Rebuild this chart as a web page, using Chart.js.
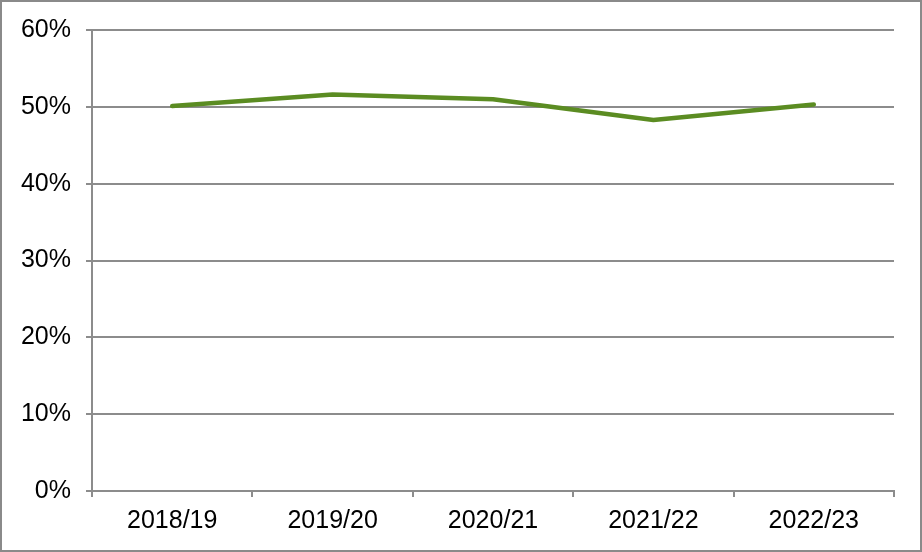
<!DOCTYPE html>
<html>
<head>
<meta charset="utf-8">
<script src="https://cdn.jsdelivr.net/npm/chart.js@4/dist/chart.umd.min.js"></script>
<style>
html,body{margin:0;padding:0;background:#fff;}
#wrap{width:922px;height:552px;position:relative;}
</style>
</head>
<body>
<div id="wrap"><canvas id="c" width="922" height="552"></canvas></div>
<script>
const categories = ['2018/19','2019/20','2020/21','2021/22','2022/23'];
const shareValues = [50.1, 51.6, 51.0, 48.3, 50.3];
const yTicks = [0,10,20,30,40,50,60];

const frame = {
  id:'frame',
  afterDraw(chart){
    const ctx = chart.ctx;
    ctx.save();
    ctx.strokeStyle = '#8a8a8a';
    ctx.lineWidth = 2;
    ctx.strokeRect(1,1,chart.width-2,chart.height-2);
    ctx.restore();
  }
};

new Chart(document.getElementById('c'), {
  type:'line',
  data:{
    labels: categories,
    datasets:[{
      data: shareValues,
      borderColor:'#5b8c22',
      borderWidth:4.5,
      borderCapStyle:'round',
      borderJoinStyle:'round',
      pointRadius:0,
      tension:0,
      fill:false
    }]
  },
  options:{
    responsive:false,
    animation:false,
    devicePixelRatio:1,
    layout:{padding:{left:0,right:28,top:29,bottom:0}},
    plugins:{legend:{display:false},tooltip:{enabled:false}},
    scales:{
      x:{
        offset:true,
        grid:{offset:true,drawOnChartArea:false,drawTicks:true,tickLength:6,color:'#8c8c8c',lineWidth:2},
        border:{display:true,color:'#8c8c8c',width:2},
        ticks:{color:'#000',font:{family:'"Liberation Sans", Arial, sans-serif',size:25},padding:9,maxRotation:0,autoSkip:false},
        afterFit(s){ s.height = 61; }
      },
      y:{
        min:0,max:60,
        afterBuildTicks(s){ s.ticks = yTicks.map(v=>({value:v})); },
        grid:{color:'#8c8c8c',lineWidth:2,tickLength:6,drawTicks:true},
        border:{display:true,color:'#8c8c8c',width:2},
        ticks:{color:'#000',font:{family:'"Liberation Sans", Arial, sans-serif',size:25},padding:15,callback:v=>v+'%'},
        afterFit(s){ s.width = 92; }
      }
    }
  },
  plugins:[frame]
});
</script>
</body>
</html>
